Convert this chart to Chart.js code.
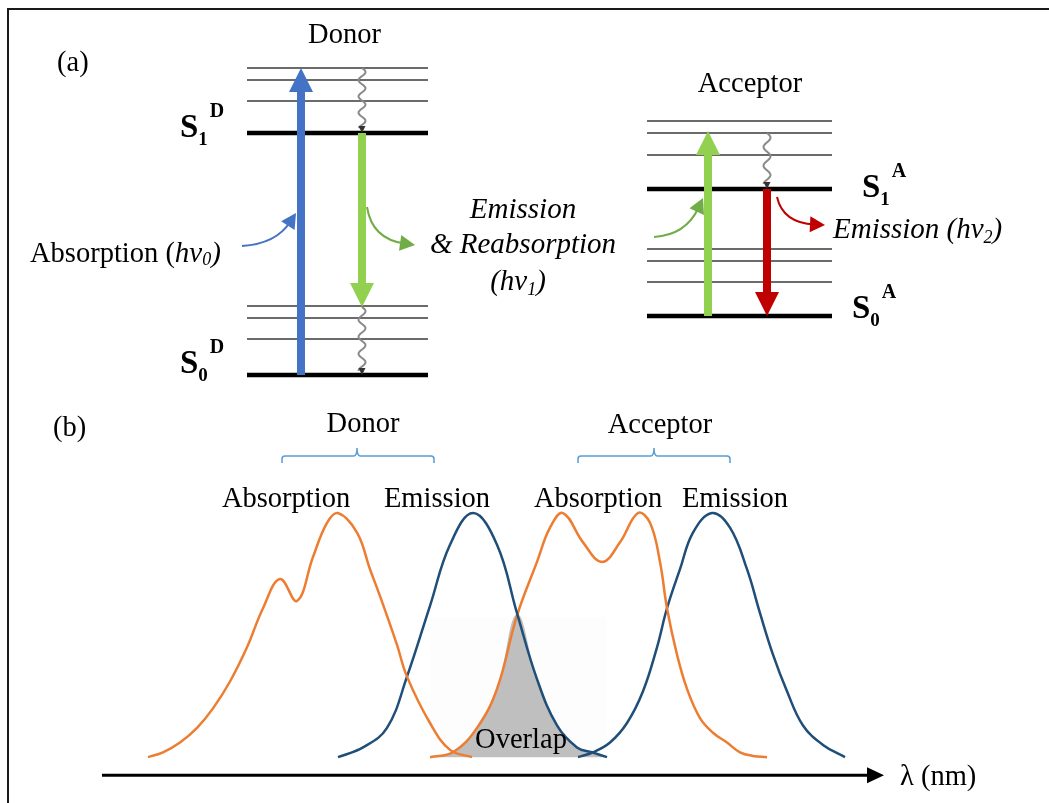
<!DOCTYPE html>
<html>
<head>
<meta charset="utf-8">
<script src="https://cdn.jsdelivr.net/npm/chart.js@4.4.1/dist/chart.umd.min.js"></script>
<style>
  body { margin: 0; background: #fff; overflow: hidden; }
  #frame { position: absolute; left: 7px; top: 8px; width: 1100px; height: 900px; border: 2px solid #1a1a1a; box-sizing: border-box; }
  #wrapA { position: absolute; left: 0; top: 0; width: 1049px; height: 400px; }
  #wrapB { position: absolute; left: 0; top: 391px; width: 1049px; height: 415px; }
</style>
</head>
<body>
<div id="frame"></div>
<div id="wrapA"><canvas id="chartA"></canvas></div>
<div id="wrapB"><canvas id="chartB"></canvas></div>
<script>
// ---- (a) Jablonski diagram: energy levels in diagram units ----
const donorX = [24.7, 42.8];
const acceptorX = [64.7, 83.2];
const donorThick = [0, 2.42];
const donorThin = [0.36, 0.57, 0.69, 2.74, 2.95, 3.07];
const acceptorThick = [0.59, 1.86];
const acceptorThin = [0.93, 1.14, 1.26, 2.20, 2.42, 2.54];

// vertical transitions (x position, from level, to level)
const transX = [30.1, 36.2, 70.8, 76.7];
const transFrom = [0, 2.42, 0.59, 1.86];
const transTo = [3.07, 0.68, 2.44, 0.59];
const transColor = ['#4472C4', '#92D050', '#92D050', '#C00000'];

// non-radiative relaxation (wavy)
const relaxX = [36.2, 36.2, 76.7];
const relaxFrom = [3.07, 0.68, 2.42];
const relaxTo = [2.42, 0, 1.86];

// photon arrows: start, control, end
const photonStart = [[24.2, 1.29], [36.7, 1.68], [65.4, 1.38], [77.7, 1.78]];
const photonCtrl = [[27.6, 1.31], [37.2, 1.36], [68.6, 1.40], [78.3, 1.52]];
const photonEnd = [[29.6, 1.62], [41.5, 1.30], [70.3, 1.77], [82.5, 1.50]];
const photonColor = ['#4472C4', '#70AD47', '#70AD47', '#C00000'];

// ---- (b) spectra: wavelength (nm) vs normalised intensity ----
const donorAbsNm = [324, 331.5, 340, 348.5, 356.5, 365, 373.5, 381.5, 390, 398.5, 406.5, 413.5, 419, 428.5, 435, 440, 448.5, 453.5, 465, 475, 486];
const donorAbsI = [0, 0.02, 0.06, 0.12, 0.20, 0.31, 0.45, 0.61, 0.73, 0.64, 0.82, 0.96, 1.00, 0.92, 0.77, 0.66, 0.46, 0.33, 0.14, 0.03, 0];
const donorEmNm = [419, 431.5, 443.5, 453.5, 465, 475, 486.5, 498.5, 508.5, 518.5, 528.5, 538.5, 546, 553.5];
const donorEmI = [0, 0.04, 0.12, 0.33, 0.62, 0.87, 1.00, 0.87, 0.59, 0.32, 0.13, 0.04, 0.02, 0];
const accAbsNm = [465, 476.5, 488.5, 498.5, 508.5, 518.5, 525, 531.5, 541.5, 551, 560, 569, 575, 580, 583.5, 588.5, 593.5, 600, 606.5, 613.5, 620, 626.5, 633.5];
const accAbsI = [0, 0.02, 0.12, 0.28, 0.58, 0.80, 0.94, 1.00, 0.88, 0.80, 0.88, 1.00, 0.96, 0.80, 0.61, 0.42, 0.28, 0.16, 0.10, 0.06, 0.02, 0.005, 0];
const accEmNm = [539, 546.5, 555, 563.5, 571.5, 578.5, 583.5, 590, 596.5, 606, 615, 623.5, 630, 636.5, 643.5, 651.5, 661.5, 672.5];
const accEmI = [0, 0.02, 0.06, 0.14, 0.27, 0.45, 0.61, 0.77, 0.92, 1.00, 0.94, 0.77, 0.59, 0.42, 0.27, 0.13, 0.05, 0];
const overlapNm = [465, 476.5, 488.5, 498.5, 508.5, 518.5, 528.5, 538.5, 546, 553.5];
const overlapI = [0, 0.02, 0.12, 0.28, 0.585, 0.32, 0.13, 0.04, 0.02, 0];
const overlapBoxNm = [465, 553.5];
const overlapBoxTop = 0.574;

// axis and braces
const axisFromNm = 301;
const axisToNm = 692;
const axisLevel = -0.074;
const braceFrom = [391, 539];
const braceMid = [428.5, 577];
const braceTo = [467, 615];
const braceTop = 1.266, braceBar = 1.234, braceFoot = 1.205;

const SERIF = '"Liberation Serif", "Times New Roman", serif';
const F = '28.5px ' + SERIF;
const FI = 'italic 29px ' + SERIF;
const FIs = 'italic 18px ' + SERIF;
const FS = 'bold 33px ' + SERIF;
const FSs = 'bold 19px ' + SERIF;
const FSp = 'bold 20px ' + SERIF;

function stateLabel(sub, sup) {
  return [{t: 'S', font: FS}, {t: sub, font: FSs, dy: 8, gap: 2}, {t: sup, font: FSp, dy: -20}];
}

const labelsA = [
  {x: 5.7, y: 3.04, align: 'left', parts: [{t: '(a)', font: F}]},
  {x: 34.45, y: 3.32, align: 'center', parts: [{t: 'Donor', font: F}]},
  {x: 75.0, y: 2.83, align: 'center', parts: [{t: 'Acceptor', font: F}]},
  {x: 3.0, y: 1.13, align: 'left', parts: [{t: 'Absorption (', font: F}, {t: 'hv', font: FI}, {t: '0', font: FIs, dy: 3}, {t: ')', font: FI}]},
  {x: 52.3, y: 1.57, align: 'center', parts: [{t: 'Emission', font: FI}]},
  {x: 52.3, y: 1.22, align: 'center', parts: [{t: '& Reabsorption', font: FI}]},
  {x: 51.8, y: 0.85, align: 'center', parts: [{t: '(hv', font: FI}, {t: '1', font: FIs, dy: 5}, {t: ')', font: FI}]},
  {x: 83.3, y: 1.37, align: 'left', parts: [{t: 'Emission (hv', font: FI}, {t: '2', font: FIs, dy: 5}, {t: ')', font: FI}]},
  {x: 18.0, y: 2.38, align: 'left', parts: stateLabel('1', 'D')},
  {x: 18.0, y: 0.02, align: 'left', parts: stateLabel('0', 'D')},
  {x: 86.2, y: 1.78, align: 'left', parts: stateLabel('1', 'A')},
  {x: 85.2, y: 0.57, align: 'left', parts: stateLabel('0', 'A')}
];

const labelsB = [
  {x: 276.5, y: 1.316, align: 'left', parts: [{t: '(b)', font: F}]},
  {x: 431.5, y: 1.332, align: 'center', parts: [{t: 'Donor', font: F}]},
  {x: 580, y: 1.328, align: 'center', parts: [{t: 'Acceptor', font: F}]},
  {x: 393, y: 1.025, align: 'center', parts: [{t: 'Absorption', font: F}]},
  {x: 468.5, y: 1.025, align: 'center', parts: [{t: 'Emission', font: F}]},
  {x: 549, y: 1.025, align: 'center', parts: [{t: 'Absorption', font: F}]},
  {x: 617.5, y: 1.025, align: 'center', parts: [{t: 'Emission', font: F}]},
  {x: 510.5, y: 0.037, align: 'center', parts: [{t: 'Overlap', font: F}]},
  {x: 700, y: -0.115, align: 'left', parts: [{t: '\u03bb (nm)', font: F}]}
];

function toPx(chart, x, y) {
  return [chart.scales.x.getPixelForValue(x), chart.scales.y.getPixelForValue(y)];
}

function drawRuns(ctx, x, y, parts, align) {
  let w = 0;
  parts.forEach(p => { ctx.font = p.font; w += ctx.measureText(p.t).width + (p.gap || 0); });
  let cx = align === 'center' ? x - w / 2 : x;
  ctx.textAlign = 'left';
  ctx.textBaseline = 'alphabetic';
  ctx.fillStyle = '#000';
  parts.forEach(p => {
    ctx.font = p.font;
    ctx.fillText(p.t, cx, y + (p.dy || 0));
    cx += ctx.measureText(p.t).width + (p.gap || 0);
  });
}

function drawLabels(chart, list) {
  const ctx = chart.ctx;
  list.forEach(l => {
    const p = toPx(chart, l.x, l.y);
    drawRuns(ctx, p[0], p[1], l.parts, l.align);
  });
}

function blockArrow(ctx, x, y1, y2, color) {
  const dir = y2 > y1 ? 1 : -1;
  const shaft = 8, head = 24, headLen = 24;
  const base = y2 - dir * headLen;
  ctx.fillStyle = color;
  ctx.fillRect(x - shaft / 2, Math.min(y1, base), shaft, Math.abs(base - y1));
  ctx.beginPath();
  ctx.moveTo(x - head / 2, base);
  ctx.lineTo(x + head / 2, base);
  ctx.lineTo(x, y2);
  ctx.closePath();
  ctx.fill();
}

function wavy(ctx, x, y1, y2) {
  const n = Math.abs(y2 - y1);
  const dir = y2 > y1 ? 1 : -1;
  const waves = Math.max(2, Math.round(n / 16));
  ctx.save();
  ctx.strokeStyle = '#8a8a8a';
  ctx.lineWidth = 2;
  ctx.beginPath();
  for (let i = 0; i <= n - 4; i++) {
    const yy = y1 + dir * i;
    const xx = x + 3.5 * Math.sin(i / n * Math.PI * 2 * waves);
    if (i === 0) ctx.moveTo(xx, yy); else ctx.lineTo(xx, yy);
  }
  ctx.stroke();
  ctx.fillStyle = '#333';
  ctx.beginPath();
  ctx.moveTo(x - 3.5, y2 - dir * 7);
  ctx.lineTo(x + 3.5, y2 - dir * 7);
  ctx.lineTo(x, y2);
  ctx.closePath();
  ctx.fill();
  ctx.restore();
}

function photon(ctx, p0, c, p1, color) {
  const ang = Math.atan2(p1[1] - c[1], p1[0] - c[0]);
  const hl = 15, hw = 8;
  const end = [p1[0] - hl * 0.7 * Math.cos(ang), p1[1] - hl * 0.7 * Math.sin(ang)];
  ctx.save();
  ctx.strokeStyle = color;
  ctx.lineWidth = 2;
  ctx.beginPath();
  ctx.moveTo(p0[0], p0[1]);
  ctx.quadraticCurveTo(c[0], c[1], end[0], end[1]);
  ctx.stroke();
  ctx.fillStyle = color;
  ctx.beginPath();
  ctx.moveTo(p1[0], p1[1]);
  ctx.lineTo(p1[0] - hl * Math.cos(ang) + hw * Math.sin(ang), p1[1] - hl * Math.sin(ang) - hw * Math.cos(ang));
  ctx.lineTo(p1[0] - hl * Math.cos(ang) - hw * Math.sin(ang), p1[1] - hl * Math.sin(ang) + hw * Math.cos(ang));
  ctx.closePath();
  ctx.fill();
  ctx.restore();
}

const diagramPlugin = {
  id: 'diagram',
  afterDatasetsDraw(chart) {
    const ctx = chart.ctx;
    for (let i = 0; i < transX.length; i++) {
      const a = toPx(chart, transX[i], transFrom[i]);
      const b = toPx(chart, transX[i], transTo[i]);
      blockArrow(ctx, a[0], a[1], b[1], transColor[i]);
    }
    for (let i = 0; i < relaxX.length; i++) {
      const a = toPx(chart, relaxX[i], relaxFrom[i]);
      const b = toPx(chart, relaxX[i], relaxTo[i]);
      wavy(ctx, a[0], a[1], b[1]);
    }
    for (let i = 0; i < photonStart.length; i++) {
      photon(ctx,
        toPx(chart, photonStart[i][0], photonStart[i][1]),
        toPx(chart, photonCtrl[i][0], photonCtrl[i][1]),
        toPx(chart, photonEnd[i][0], photonEnd[i][1]),
        photonColor[i]);
    }
    drawLabels(chart, labelsA);
  }
};

const spectraPlugin = {
  id: 'spectra',
  afterDatasetsDraw(chart) {
    const ctx = chart.ctx;
    // wavelength axis with arrow
    const a = toPx(chart, axisFromNm, axisLevel);
    const b = toPx(chart, axisToNm, axisLevel);
    ctx.save();
    ctx.strokeStyle = '#000';
    ctx.lineWidth = 3;
    ctx.beginPath();
    ctx.moveTo(a[0], a[1]);
    ctx.lineTo(b[0] - 14, b[1]);
    ctx.stroke();
    ctx.fillStyle = '#000';
    ctx.beginPath();
    ctx.moveTo(b[0] - 17, b[1] - 8);
    ctx.lineTo(b[0], b[1]);
    ctx.lineTo(b[0] - 17, b[1] + 8);
    ctx.closePath();
    ctx.fill();
    // braces
    ctx.strokeStyle = '#5B9BD5';
    ctx.lineWidth = 1.5;
    for (let i = 0; i < braceFrom.length; i++) {
      const x0 = chart.scales.x.getPixelForValue(braceFrom[i]);
      const xm = chart.scales.x.getPixelForValue(braceMid[i]);
      const x1 = chart.scales.x.getPixelForValue(braceTo[i]);
      const yt = chart.scales.y.getPixelForValue(braceTop);
      const yb = chart.scales.y.getPixelForValue(braceBar);
      const yf = chart.scales.y.getPixelForValue(braceFoot);
      ctx.beginPath();
      ctx.moveTo(x0, yf);
      ctx.lineTo(x0, yb + 3);
      ctx.quadraticCurveTo(x0, yb, x0 + 3, yb);
      ctx.lineTo(xm - 3, yb);
      ctx.quadraticCurveTo(xm, yb, xm, yt);
      ctx.quadraticCurveTo(xm, yb, xm + 3, yb);
      ctx.lineTo(x1 - 3, yb);
      ctx.quadraticCurveTo(x1, yb, x1, yb + 3);
      ctx.lineTo(x1, yf);
      ctx.stroke();
    }
    ctx.restore();
    drawLabels(chart, labelsB);
  }
};

function levelSet(xr, e, w, color) {
  return {data: [{x: xr[0], y: e}, {x: xr[1], y: e}], borderColor: color, borderWidth: w, pointRadius: 0, fill: false};
}

const setsA = [];
donorThin.forEach(e => setsA.push(levelSet(donorX, e, 1.5, '#3a3a3a')));
donorThick.forEach(e => setsA.push(levelSet(donorX, e, 4.5, '#000')));
acceptorThin.forEach(e => setsA.push(levelSet(acceptorX, e, 1.5, '#3a3a3a')));
acceptorThick.forEach(e => setsA.push(levelSet(acceptorX, e, 4.5, '#000')));

function curve(xs, ys, color) {
  return {
    data: xs.map((x, i) => ({x: x, y: ys[i]})),
    borderColor: color, borderWidth: 2.5, pointRadius: 0,
    tension: 0.4, fill: false
  };
}

const setsB = [
  curve(donorAbsNm, donorAbsI, '#ED7D31'),
  curve(donorEmNm, donorEmI, '#1F4E79'),
  curve(accAbsNm, accAbsI, '#ED7D31'),
  curve(accEmNm, accEmI, '#1F4E79'),
  {
    data: overlapNm.map((x, i) => ({x: x, y: overlapI[i]})),
    borderWidth: 0, borderColor: 'rgba(0,0,0,0)', backgroundColor: '#BFBFBF',
    pointRadius: 0, tension: 0.4, fill: 'origin'
  },
  {
    data: overlapBoxNm.map(x => ({x: x, y: overlapBoxTop})),
    borderWidth: 0, borderColor: 'rgba(0,0,0,0)', backgroundColor: '#FDFDFD',
    pointRadius: 0, fill: 'origin'
  }
];

function baseOptions(xmin, xmax, ymin, ymax) {
  return {
    responsive: true,
    maintainAspectRatio: false,
    animation: false,
    devicePixelRatio: 1,
    layout: {padding: 0},
    plugins: {legend: {display: false}, tooltip: {enabled: false}},
    scales: {
      x: {type: 'linear', min: xmin, max: xmax, display: false},
      y: {type: 'linear', min: ymin, max: ymax, display: false}
    }
  };
}

new Chart(document.getElementById('chartA'), {
  type: 'line',
  data: {datasets: setsA},
  options: baseOptions(0, 104.9, -0.25, 3.75),
  plugins: [diagramPlugin]
});

new Chart(document.getElementById('chartB'), {
  type: 'line',
  data: {datasets: setsB},
  options: baseOptions(250, 774.5, -0.2, 1.5),
  plugins: [spectraPlugin]
});
</script>
</body>
</html>
